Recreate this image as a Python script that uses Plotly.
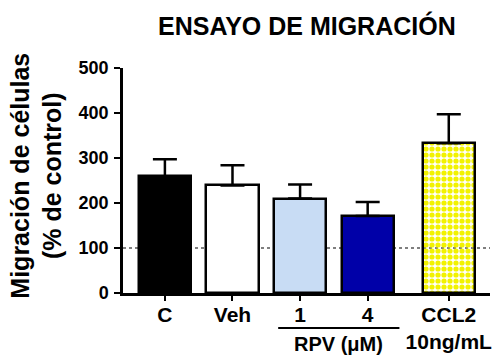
import plotly.graph_objects as go

# Migration assay data (% of control)
categories = ["C", "Veh", "1", "4", "CCL2<br>10ng/mL"]
positions = [0, 1, 2, 3, 4.2]
means = [259, 239, 210, 171, 333]
errors = [38, 45, 31, 31, 64]
fill_colors = ["#000000", "#ffffff", "#c8dcf4", "#0000a8", "#f2f200"]
pattern_shapes = ["", "", "", "", "."]
y_ticks = [0, 100, 200, 300, 400, 500]
baseline = 100

FONT = "Liberation Sans, Arial, sans-serif"

fig = go.Figure()

fig.add_trace(go.Bar(
    x=positions,
    y=means,
    width=0.77,
    marker=dict(
        color=fill_colors,
        line=dict(color="black", width=2.5),
        pattern=dict(shape=pattern_shapes, fgcolor="#f2f200", bgcolor="white",
                     size=6, solidity=0.6, fillmode="replace"),
    ),
    error_y=dict(type="data", array=errors, arrayminus=[0] * len(errors), symmetric=False,
                 color="black", thickness=2.5, width=12),
    showlegend=False,
))

fig.update_layout(
    width=496, height=357,
    margin=dict(l=123, r=4, t=68, b=64),
    plot_bgcolor="white", paper_bgcolor="white",
    font=dict(family=FONT, color="black"),
    bargap=0,
    xaxis=dict(
        range=[-0.62, 4.81],
        tickvals=positions, ticktext=[f"<b>{c}</b>" for c in categories],
        showline=True, linecolor="black", linewidth=2.5,
        ticks="outside", ticklen=5, tickwidth=2, tickcolor="black",
        tickfont=dict(size=21, family=FONT), ticklabelstandoff=-4,
        showgrid=False, zeroline=False,
    ),
    yaxis=dict(
        range=[0, 500],
        tickvals=y_ticks, ticktext=[f"<b>{t}</b>" for t in y_ticks],
        showline=True, linecolor="black", linewidth=2.5,
        ticks="outside", ticklen=6, tickwidth=2, tickcolor="black",
        tickfont=dict(size=18, family=FONT), ticklabelstandoff=2,
        showgrid=False, zeroline=False,
    ),
    annotations=[
        dict(text="<b>ENSAYO DE MIGRACIÓN</b>", xref="paper", yref="paper",
             x=0.501, y=1.0, yshift=43, xanchor="center", yanchor="middle",
             showarrow=False, font=dict(size=25, family=FONT)),
        dict(text="<b>Migración de células<br>(% de control)</b>", xref="paper", yref="paper",
             x=-0.238, y=0.52, xanchor="center", yanchor="middle", textangle=-90,
             showarrow=False, font=dict(size=25, family=FONT)),
        dict(text="<b>RPV (μM)</b>", xref="x", yref="paper", x=2.57, y=-0.228,
             xanchor="center", yanchor="middle",
             showarrow=False, font=dict(size=20, family=FONT)),
    ],
    shapes=[
        # dotted reference line at 100 %, behind the bars
        dict(type="line", xref="paper", yref="y", x0=0, x1=1, y0=baseline, y1=baseline,
             line=dict(color="#555555", width=1.5, dash="dot"), layer="below"),
        # bracket grouping the RPV concentrations
        dict(type="line", xref="x", yref="paper", x0=1.676, x1=3.47, y0=-0.156, y1=-0.156,
             line=dict(color="black", width=2)),
    ],
)

fig.write_html("out.html")
